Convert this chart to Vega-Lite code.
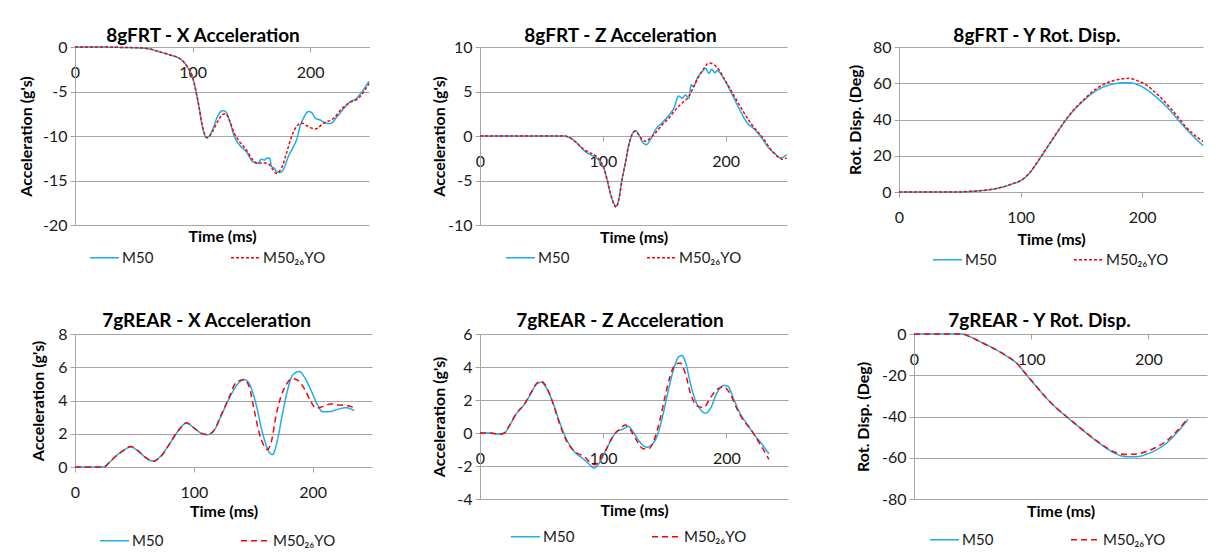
{
"$schema": "https://vega.github.io/schema/vega-lite/v6.json",
"autosize": {"type": "pad"},
"padding": {"left": 18, "top": 27, "right": 5, "bottom": 5},
"background": "white",
"datasets": {
"p1": [
{"t":0,"v":0,"s":"M50"},{"t":20,"v":0,"s":"M50"},{"t":40,"v":-0.05,"s":"M50"},{"t":50,"v":-0.08,"s":"M50"},{"t":60,"v":-0.15,"s":"M50"},{"t":71,"v":-0.5,"s":"M50"},{"t":80,"v":-0.86,"s":"M50"},{"t":85,"v":-1.05,"s":"M50"},{"t":91,"v":-1.5,"s":"M50"},{"t":95.4,"v":-2.2,"s":"M50"},{"t":99.7,"v":-3.3,"s":"M50"},{"t":102.6,"v":-4.8,"s":"M50"},{"t":105.4,"v":-6.7,"s":"M50"},{"t":108.3,"v":-8.9,"s":"M50"},{"t":111.7,"v":-10.2,"s":"M50"},{"t":114,"v":-10.05,"s":"M50"},{"t":116.9,"v":-9.3,"s":"M50"},{"t":121.2,"v":-7.8,"s":"M50"},{"t":125.5,"v":-7.15,"s":"M50"},{"t":128.4,"v":-7.3,"s":"M50"},{"t":131.2,"v":-8.2,"s":"M50"},{"t":135.5,"v":-10.05,"s":"M50"},{"t":139.8,"v":-11,"s":"M50"},{"t":145.6,"v":-11.75,"s":"M50"},{"t":151.3,"v":-12.9,"s":"M50"},{"t":155.6,"v":-13.05,"s":"M50"},{"t":158.5,"v":-12.6,"s":"M50"},{"t":161.3,"v":-12.7,"s":"M50"},{"t":162.8,"v":-12.5,"s":"M50"},{"t":165.6,"v":-12.5,"s":"M50"},{"t":167,"v":-13.4,"s":"M50"},{"t":170,"v":-13.7,"s":"M50"},{"t":171.3,"v":-14,"s":"M50"},{"t":174.2,"v":-14.1,"s":"M50"},{"t":177,"v":-13.8,"s":"M50"},{"t":181.4,"v":-12.3,"s":"M50"},{"t":185.7,"v":-11.2,"s":"M50"},{"t":188.5,"v":-10.4,"s":"M50"},{"t":191.4,"v":-8.9,"s":"M50"},{"t":194.3,"v":-8,"s":"M50"},{"t":198.6,"v":-7.25,"s":"M50"},{"t":201.4,"v":-7.4,"s":"M50"},{"t":204.3,"v":-8,"s":"M50"},{"t":208.6,"v":-8.2,"s":"M50"},{"t":212.9,"v":-8.55,"s":"M50"},{"t":217.2,"v":-8.6,"s":"M50"},{"t":223,"v":-7.8,"s":"M50"},{"t":228.7,"v":-6.9,"s":"M50"},{"t":234.4,"v":-6.1,"s":"M50"},{"t":238.7,"v":-5.85,"s":"M50"},{"t":243,"v":-5.2,"s":"M50"},{"t":247.3,"v":-4.4,"s":"M50"},{"t":250,"v":-3.85,"s":"M50"},
{"t":0,"v":0,"s":"M50_26YO"},{"t":20,"v":0,"s":"M50_26YO"},{"t":40,"v":-0.05,"s":"M50_26YO"},{"t":50,"v":-0.08,"s":"M50_26YO"},{"t":60,"v":-0.15,"s":"M50_26YO"},{"t":71,"v":-0.5,"s":"M50_26YO"},{"t":80,"v":-0.86,"s":"M50_26YO"},{"t":85,"v":-1.05,"s":"M50_26YO"},{"t":91,"v":-1.5,"s":"M50_26YO"},{"t":95.4,"v":-2.2,"s":"M50_26YO"},{"t":99.7,"v":-3.3,"s":"M50_26YO"},{"t":102.6,"v":-4.8,"s":"M50_26YO"},{"t":105.4,"v":-6.7,"s":"M50_26YO"},{"t":108.3,"v":-8.9,"s":"M50_26YO"},{"t":112.6,"v":-10.2,"s":"M50_26YO"},{"t":116.9,"v":-9.5,"s":"M50_26YO"},{"t":121.2,"v":-8.4,"s":"M50_26YO"},{"t":125.5,"v":-7.6,"s":"M50_26YO"},{"t":128.4,"v":-7.5,"s":"M50_26YO"},{"t":131.2,"v":-8.2,"s":"M50_26YO"},{"t":135.5,"v":-9.7,"s":"M50_26YO"},{"t":139.8,"v":-10.6,"s":"M50_26YO"},{"t":145.6,"v":-11.55,"s":"M50_26YO"},{"t":151.3,"v":-12.7,"s":"M50_26YO"},{"t":155.6,"v":-13.1,"s":"M50_26YO"},{"t":159.9,"v":-13,"s":"M50_26YO"},{"t":164.2,"v":-13.1,"s":"M50_26YO"},{"t":168.5,"v":-13.8,"s":"M50_26YO"},{"t":171.3,"v":-14.2,"s":"M50_26YO"},{"t":175.6,"v":-13.6,"s":"M50_26YO"},{"t":179.9,"v":-11.9,"s":"M50_26YO"},{"t":184.2,"v":-10.05,"s":"M50_26YO"},{"t":188.5,"v":-8.9,"s":"M50_26YO"},{"t":192.8,"v":-8.55,"s":"M50_26YO"},{"t":197.1,"v":-8.85,"s":"M50_26YO"},{"t":204.3,"v":-9.2,"s":"M50_26YO"},{"t":211.5,"v":-8.55,"s":"M50_26YO"},{"t":220,"v":-8,"s":"M50_26YO"},{"t":227.2,"v":-6.9,"s":"M50_26YO"},{"t":234.4,"v":-6.2,"s":"M50_26YO"},{"t":240.1,"v":-5.85,"s":"M50_26YO"},{"t":245.8,"v":-5,"s":"M50_26YO"},{"t":250,"v":-4.1,"s":"M50_26YO"}
],
"p2": [
{"t":0,"v":0,"s":"M50"},{"t":60,"v":0,"s":"M50"},{"t":68,"v":0,"s":"M50"},{"t":73.5,"v":-0.22,"s":"M50"},{"t":79,"v":-0.8,"s":"M50"},{"t":84.4,"v":-1.6,"s":"M50"},{"t":89.8,"v":-2.1,"s":"M50"},{"t":93.9,"v":-2.35,"s":"M50"},{"t":98,"v":-2.95,"s":"M50"},{"t":100.7,"v":-3.6,"s":"M50"},{"t":103.4,"v":-4.9,"s":"M50"},{"t":106,"v":-6.4,"s":"M50"},{"t":108.8,"v":-7.5,"s":"M50"},{"t":110.7,"v":-7.9,"s":"M50"},{"t":113,"v":-7.1,"s":"M50"},{"t":115.6,"v":-4.9,"s":"M50"},{"t":118.4,"v":-3,"s":"M50"},{"t":121,"v":-1.15,"s":"M50"},{"t":123.8,"v":0.15,"s":"M50"},{"t":126.5,"v":0.63,"s":"M50"},{"t":129.3,"v":0.15,"s":"M50"},{"t":132,"v":-0.6,"s":"M50"},{"t":135.2,"v":-0.97,"s":"M50"},{"t":138.8,"v":-0.4,"s":"M50"},{"t":142.9,"v":0.7,"s":"M50"},{"t":148.3,"v":1.5,"s":"M50"},{"t":153.7,"v":2.3,"s":"M50"},{"t":157.8,"v":3.1,"s":"M50"},{"t":161.9,"v":4.5,"s":"M50"},{"t":164.6,"v":4.25,"s":"M50"},{"t":167.3,"v":4.6,"s":"M50"},{"t":170,"v":4.25,"s":"M50"},{"t":172,"v":5.75,"s":"M50"},{"t":173.6,"v":5.55,"s":"M50"},{"t":176.9,"v":6.5,"s":"M50"},{"t":181,"v":7.25,"s":"M50"},{"t":183.7,"v":7.6,"s":"M50"},{"t":186.4,"v":7.05,"s":"M50"},{"t":188.6,"v":7.5,"s":"M50"},{"t":191.3,"v":7.1,"s":"M50"},{"t":193.2,"v":7.35,"s":"M50"},{"t":197.3,"v":6.7,"s":"M50"},{"t":201.4,"v":5.75,"s":"M50"},{"t":206.8,"v":4.25,"s":"M50"},{"t":212.2,"v":2.75,"s":"M50"},{"t":217.7,"v":1.45,"s":"M50"},{"t":223.1,"v":0.8,"s":"M50"},{"t":228.6,"v":-0.05,"s":"M50"},{"t":234,"v":-1.15,"s":"M50"},{"t":239.5,"v":-1.9,"s":"M50"},{"t":244.9,"v":-2.45,"s":"M50"},{"t":249.8,"v":-2.1,"s":"M50"},
{"t":0,"v":0,"s":"M50_26YO"},{"t":60,"v":0,"s":"M50_26YO"},{"t":68,"v":0,"s":"M50_26YO"},{"t":73.5,"v":-0.22,"s":"M50_26YO"},{"t":79,"v":-0.8,"s":"M50_26YO"},{"t":84.4,"v":-1.5,"s":"M50_26YO"},{"t":89.8,"v":-1.9,"s":"M50_26YO"},{"t":93.9,"v":-2.2,"s":"M50_26YO"},{"t":98,"v":-2.8,"s":"M50_26YO"},{"t":100.7,"v":-3.5,"s":"M50_26YO"},{"t":103.4,"v":-4.8,"s":"M50_26YO"},{"t":106,"v":-6.3,"s":"M50_26YO"},{"t":108.8,"v":-7.6,"s":"M50_26YO"},{"t":110.9,"v":-8,"s":"M50_26YO"},{"t":113,"v":-7.2,"s":"M50_26YO"},{"t":115.6,"v":-5,"s":"M50_26YO"},{"t":118.4,"v":-3,"s":"M50_26YO"},{"t":121.1,"v":-0.97,"s":"M50_26YO"},{"t":123.8,"v":0.15,"s":"M50_26YO"},{"t":126.5,"v":0.52,"s":"M50_26YO"},{"t":129.3,"v":0.15,"s":"M50_26YO"},{"t":132,"v":-0.4,"s":"M50_26YO"},{"t":135.2,"v":-0.6,"s":"M50_26YO"},{"t":138.8,"v":-0.2,"s":"M50_26YO"},{"t":142.9,"v":0.35,"s":"M50_26YO"},{"t":148.3,"v":1.25,"s":"M50_26YO"},{"t":153.7,"v":2,"s":"M50_26YO"},{"t":159.2,"v":2.95,"s":"M50_26YO"},{"t":164.6,"v":3.7,"s":"M50_26YO"},{"t":170.1,"v":4.45,"s":"M50_26YO"},{"t":174.1,"v":5.55,"s":"M50_26YO"},{"t":178.2,"v":6.7,"s":"M50_26YO"},{"t":182.3,"v":7.6,"s":"M50_26YO"},{"t":186.4,"v":8.2,"s":"M50_26YO"},{"t":190.5,"v":8,"s":"M50_26YO"},{"t":194.6,"v":7.45,"s":"M50_26YO"},{"t":198.6,"v":6.5,"s":"M50_26YO"},{"t":204.1,"v":5.2,"s":"M50_26YO"},{"t":209.5,"v":3.9,"s":"M50_26YO"},{"t":215,"v":2.6,"s":"M50_26YO"},{"t":220.4,"v":1.45,"s":"M50_26YO"},{"t":225.9,"v":0.52,"s":"M50_26YO"},{"t":231.3,"v":-0.4,"s":"M50_26YO"},{"t":236.7,"v":-1.5,"s":"M50_26YO"},{"t":242.2,"v":-2.3,"s":"M50_26YO"},{"t":246.3,"v":-2.6,"s":"M50_26YO"},{"t":249.8,"v":-2.45,"s":"M50_26YO"}
],
"p3": [
{"t":0,"v":0,"s":"M50"},{"t":47,"v":0,"s":"M50"},{"t":61,"v":0.4,"s":"M50"},{"t":74.6,"v":1.3,"s":"M50"},{"t":85.6,"v":2.8,"s":"M50"},{"t":93.8,"v":4.6,"s":"M50"},{"t":100.7,"v":6.4,"s":"M50"},{"t":107.5,"v":10.5,"s":"M50"},{"t":113,"v":15.6,"s":"M50"},{"t":118.5,"v":21.1,"s":"M50"},{"t":126.7,"v":29.4,"s":"M50"},{"t":135,"v":37.7,"s":"M50"},{"t":143.2,"v":44.7,"s":"M50"},{"t":151.4,"v":50.2,"s":"M50"},{"t":159.7,"v":54.8,"s":"M50"},{"t":167.9,"v":57.9,"s":"M50"},{"t":176.1,"v":59.6,"s":"M50"},{"t":184.4,"v":60.3,"s":"M50"},{"t":189.8,"v":60.3,"s":"M50"},{"t":198.1,"v":58.7,"s":"M50"},{"t":206.3,"v":55.2,"s":"M50"},{"t":214.5,"v":50.6,"s":"M50"},{"t":222.8,"v":45.1,"s":"M50"},{"t":231,"v":38.6,"s":"M50"},{"t":239.2,"v":32.6,"s":"M50"},{"t":250,"v":25.6,"s":"M50"},
{"t":0,"v":0,"s":"M50_26YO"},{"t":47,"v":0,"s":"M50_26YO"},{"t":61,"v":0.4,"s":"M50_26YO"},{"t":74.6,"v":1.3,"s":"M50_26YO"},{"t":85.6,"v":2.8,"s":"M50_26YO"},{"t":93.8,"v":4.7,"s":"M50_26YO"},{"t":100.7,"v":6.6,"s":"M50_26YO"},{"t":107.5,"v":10.7,"s":"M50_26YO"},{"t":113,"v":15.8,"s":"M50_26YO"},{"t":118.5,"v":21.3,"s":"M50_26YO"},{"t":126.7,"v":29.6,"s":"M50_26YO"},{"t":135,"v":37.9,"s":"M50_26YO"},{"t":143.2,"v":44.9,"s":"M50_26YO"},{"t":151.4,"v":50.6,"s":"M50_26YO"},{"t":159.7,"v":55.7,"s":"M50_26YO"},{"t":167.9,"v":59.2,"s":"M50_26YO"},{"t":176.1,"v":61.4,"s":"M50_26YO"},{"t":184.4,"v":62.5,"s":"M50_26YO"},{"t":188.5,"v":62.7,"s":"M50_26YO"},{"t":195.3,"v":61.6,"s":"M50_26YO"},{"t":203.6,"v":58.9,"s":"M50_26YO"},{"t":211.8,"v":54.3,"s":"M50_26YO"},{"t":220,"v":48.7,"s":"M50_26YO"},{"t":228.3,"v":42.3,"s":"M50_26YO"},{"t":236.5,"v":35.5,"s":"M50_26YO"},{"t":250,"v":27.8,"s":"M50_26YO"}
],
"p4": [
{"t":0,"v":0,"s":"M50"},{"t":24.4,"v":0,"s":"M50"},{"t":28.7,"v":0.26,"s":"M50"},{"t":34.3,"v":0.65,"s":"M50"},{"t":39.9,"v":0.95,"s":"M50"},{"t":46.9,"v":1.21,"s":"M50"},{"t":52.5,"v":0.99,"s":"M50"},{"t":59.6,"v":0.56,"s":"M50"},{"t":65.7,"v":0.36,"s":"M50"},{"t":72.2,"v":0.65,"s":"M50"},{"t":79.2,"v":1.35,"s":"M50"},{"t":87.6,"v":2.24,"s":"M50"},{"t":93.8,"v":2.64,"s":"M50"},{"t":100.3,"v":2.34,"s":"M50"},{"t":105.9,"v":2.04,"s":"M50"},{"t":111.5,"v":1.94,"s":"M50"},{"t":117.1,"v":2.2,"s":"M50"},{"t":122.8,"v":3.04,"s":"M50"},{"t":129.8,"v":4.13,"s":"M50"},{"t":136.8,"v":4.98,"s":"M50"},{"t":142.4,"v":5.26,"s":"M50"},{"t":146.6,"v":5.02,"s":"M50"},{"t":152.2,"v":3.83,"s":"M50"},{"t":157.9,"v":2.04,"s":"M50"},{"t":163.5,"v":0.89,"s":"M50"},{"t":166.3,"v":0.75,"s":"M50"},{"t":170.5,"v":1.65,"s":"M50"},{"t":174.7,"v":3.23,"s":"M50"},{"t":178.9,"v":4.62,"s":"M50"},{"t":183.1,"v":5.52,"s":"M50"},{"t":188.8,"v":5.75,"s":"M50"},{"t":193,"v":5.42,"s":"M50"},{"t":198.6,"v":4.62,"s":"M50"},{"t":204.2,"v":3.73,"s":"M50"},{"t":208.4,"v":3.33,"s":"M50"},{"t":214,"v":3.33,"s":"M50"},{"t":221.1,"v":3.47,"s":"M50"},{"t":228.1,"v":3.57,"s":"M50"},{"t":235.1,"v":3.39,"s":"M50"},
{"t":0,"v":0,"s":"M50_26YO"},{"t":24.4,"v":0,"s":"M50_26YO"},{"t":28.7,"v":0.26,"s":"M50_26YO"},{"t":34.3,"v":0.65,"s":"M50_26YO"},{"t":39.9,"v":0.95,"s":"M50_26YO"},{"t":46.9,"v":1.23,"s":"M50_26YO"},{"t":52.5,"v":1.01,"s":"M50_26YO"},{"t":59.6,"v":0.56,"s":"M50_26YO"},{"t":65.7,"v":0.34,"s":"M50_26YO"},{"t":72.2,"v":0.63,"s":"M50_26YO"},{"t":79.2,"v":1.35,"s":"M50_26YO"},{"t":87.6,"v":2.26,"s":"M50_26YO"},{"t":93.8,"v":2.66,"s":"M50_26YO"},{"t":100.3,"v":2.34,"s":"M50_26YO"},{"t":105.9,"v":2.04,"s":"M50_26YO"},{"t":111.5,"v":1.96,"s":"M50_26YO"},{"t":117.1,"v":2.22,"s":"M50_26YO"},{"t":122.8,"v":3.1,"s":"M50_26YO"},{"t":129.8,"v":4.2,"s":"M50_26YO"},{"t":135.4,"v":5.06,"s":"M50_26YO"},{"t":142.4,"v":5.26,"s":"M50_26YO"},{"t":146.6,"v":4.82,"s":"M50_26YO"},{"t":150.8,"v":3.43,"s":"M50_26YO"},{"t":155.1,"v":2.04,"s":"M50_26YO"},{"t":159.3,"v":1.25,"s":"M50_26YO"},{"t":162.1,"v":1.05,"s":"M50_26YO"},{"t":165.7,"v":1.65,"s":"M50_26YO"},{"t":169.1,"v":3.04,"s":"M50_26YO"},{"t":173.3,"v":4.23,"s":"M50_26YO"},{"t":177.5,"v":4.92,"s":"M50_26YO"},{"t":183.1,"v":5.32,"s":"M50_26YO"},{"t":187.4,"v":5.22,"s":"M50_26YO"},{"t":193,"v":4.72,"s":"M50_26YO"},{"t":198.6,"v":3.93,"s":"M50_26YO"},{"t":202.8,"v":3.53,"s":"M50_26YO"},{"t":208.4,"v":3.63,"s":"M50_26YO"},{"t":215.4,"v":3.79,"s":"M50_26YO"},{"t":222.5,"v":3.73,"s":"M50_26YO"},{"t":229.5,"v":3.69,"s":"M50_26YO"},{"t":235.1,"v":3.57,"s":"M50_26YO"}
],
"p5": [
{"t":0,"v":0,"s":"M50"},{"t":7.6,"v":0,"s":"M50"},{"t":15.8,"v":-0.08,"s":"M50"},{"t":19.8,"v":0,"s":"M50"},{"t":23.9,"v":0.44,"s":"M50"},{"t":29.3,"v":1.14,"s":"M50"},{"t":36.1,"v":1.74,"s":"M50"},{"t":41.6,"v":2.44,"s":"M50"},{"t":45.7,"v":2.94,"s":"M50"},{"t":49.7,"v":3.08,"s":"M50"},{"t":53.8,"v":2.74,"s":"M50"},{"t":59.2,"v":1.84,"s":"M50"},{"t":64.7,"v":0.64,"s":"M50"},{"t":70.1,"v":-0.36,"s":"M50"},{"t":76.9,"v":-1.16,"s":"M50"},{"t":83.7,"v":-1.56,"s":"M50"},{"t":89.1,"v":-1.92,"s":"M50"},{"t":92.4,"v":-2.12,"s":"M50"},{"t":95.9,"v":-1.92,"s":"M50"},{"t":100,"v":-1.36,"s":"M50"},{"t":105.4,"v":-0.56,"s":"M50"},{"t":110.9,"v":0.08,"s":"M50"},{"t":116.3,"v":0.24,"s":"M50"},{"t":120.4,"v":0.4,"s":"M50"},{"t":124.5,"v":0.04,"s":"M50"},{"t":129.9,"v":-0.56,"s":"M50"},{"t":135.3,"v":-0.86,"s":"M50"},{"t":140.8,"v":-0.6,"s":"M50"},{"t":144.8,"v":0.04,"s":"M50"},{"t":148.9,"v":1.24,"s":"M50"},{"t":153,"v":2.64,"s":"M50"},{"t":157.1,"v":3.84,"s":"M50"},{"t":161.1,"v":4.6,"s":"M50"},{"t":163.9,"v":4.7,"s":"M50"},{"t":166.6,"v":4.34,"s":"M50"},{"t":170.7,"v":3.04,"s":"M50"},{"t":174.7,"v":2,"s":"M50"},{"t":178.8,"v":1.44,"s":"M50"},{"t":182.9,"v":1.2,"s":"M50"},{"t":187,"v":1.48,"s":"M50"},{"t":192.4,"v":2.44,"s":"M50"},{"t":197.8,"v":2.88,"s":"M50"},{"t":201.1,"v":2.84,"s":"M50"},{"t":206,"v":2.04,"s":"M50"},{"t":211.4,"v":1.14,"s":"M50"},{"t":216.8,"v":0.54,"s":"M50"},{"t":222.3,"v":-0.06,"s":"M50"},{"t":227.7,"v":-0.56,"s":"M50"},{"t":234.5,"v":-1.26,"s":"M50"},
{"t":0,"v":0,"s":"M50_26YO"},{"t":7.6,"v":0,"s":"M50_26YO"},{"t":15.8,"v":-0.06,"s":"M50_26YO"},{"t":19.8,"v":0,"s":"M50_26YO"},{"t":23.9,"v":0.46,"s":"M50_26YO"},{"t":29.3,"v":1.16,"s":"M50_26YO"},{"t":36.1,"v":1.76,"s":"M50_26YO"},{"t":41.6,"v":2.46,"s":"M50_26YO"},{"t":45.7,"v":2.98,"s":"M50_26YO"},{"t":49.7,"v":3.14,"s":"M50_26YO"},{"t":53.8,"v":2.8,"s":"M50_26YO"},{"t":59.2,"v":1.8,"s":"M50_26YO"},{"t":64.7,"v":0.54,"s":"M50_26YO"},{"t":70.1,"v":-0.46,"s":"M50_26YO"},{"t":76.9,"v":-1.12,"s":"M50_26YO"},{"t":85.1,"v":-1.46,"s":"M50_26YO"},{"t":90.5,"v":-1.86,"s":"M50_26YO"},{"t":93.2,"v":-1.92,"s":"M50_26YO"},{"t":97.3,"v":-1.66,"s":"M50_26YO"},{"t":102.7,"v":-0.96,"s":"M50_26YO"},{"t":108.2,"v":-0.16,"s":"M50_26YO"},{"t":113.6,"v":0.24,"s":"M50_26YO"},{"t":117.7,"v":0.48,"s":"M50_26YO"},{"t":121.7,"v":0.24,"s":"M50_26YO"},{"t":127.2,"v":-0.46,"s":"M50_26YO"},{"t":132.6,"v":-0.96,"s":"M50_26YO"},{"t":136.7,"v":-0.96,"s":"M50_26YO"},{"t":142.1,"v":-0.26,"s":"M50_26YO"},{"t":146.2,"v":0.84,"s":"M50_26YO"},{"t":150.3,"v":2.24,"s":"M50_26YO"},{"t":154.3,"v":3.44,"s":"M50_26YO"},{"t":158.4,"v":4.14,"s":"M50_26YO"},{"t":162.5,"v":4.24,"s":"M50_26YO"},{"t":166.6,"v":3.64,"s":"M50_26YO"},{"t":170.7,"v":2.44,"s":"M50_26YO"},{"t":176.1,"v":1.64,"s":"M50_26YO"},{"t":181.5,"v":1.54,"s":"M50_26YO"},{"t":187,"v":2.14,"s":"M50_26YO"},{"t":192.4,"v":2.64,"s":"M50_26YO"},{"t":197.8,"v":2.8,"s":"M50_26YO"},{"t":203.3,"v":2.34,"s":"M50_26YO"},{"t":208.7,"v":1.44,"s":"M50_26YO"},{"t":214.1,"v":0.74,"s":"M50_26YO"},{"t":219.6,"v":0.24,"s":"M50_26YO"},{"t":226.4,"v":-0.56,"s":"M50_26YO"},{"t":230.4,"v":-1.06,"s":"M50_26YO"},{"t":234.5,"v":-1.6,"s":"M50_26YO"}
],
"p6": [
{"t":0,"v":0,"s":"M50"},{"t":40.6,"v":0,"s":"M50"},{"t":47.7,"v":-1.3,"s":"M50"},{"t":56.3,"v":-3.7,"s":"M50"},{"t":67.6,"v":-6.9,"s":"M50"},{"t":79,"v":-10.7,"s":"M50"},{"t":87.5,"v":-14.2,"s":"M50"},{"t":96,"v":-19.9,"s":"M50"},{"t":104.5,"v":-25.5,"s":"M50"},{"t":113.1,"v":-31.2,"s":"M50"},{"t":121.6,"v":-36,"s":"M50"},{"t":130.1,"v":-40.1,"s":"M50"},{"t":138.6,"v":-44.1,"s":"M50"},{"t":147.2,"v":-48.1,"s":"M50"},{"t":155.7,"v":-51.9,"s":"M50"},{"t":164.2,"v":-55.4,"s":"M50"},{"t":172.7,"v":-58.2,"s":"M50"},{"t":181.3,"v":-59.5,"s":"M50"},{"t":189.8,"v":-59.5,"s":"M50"},{"t":198.3,"v":-58.3,"s":"M50"},{"t":206.8,"v":-56.2,"s":"M50"},{"t":215.3,"v":-53,"s":"M50"},{"t":223.9,"v":-48.1,"s":"M50"},{"t":233.8,"v":-41.4,"s":"M50"},
{"t":0,"v":0,"s":"M50_26YO"},{"t":40.6,"v":0,"s":"M50_26YO"},{"t":47.7,"v":-1.3,"s":"M50_26YO"},{"t":56.3,"v":-3.7,"s":"M50_26YO"},{"t":67.6,"v":-6.9,"s":"M50_26YO"},{"t":79,"v":-10.6,"s":"M50_26YO"},{"t":87.5,"v":-14.1,"s":"M50_26YO"},{"t":96,"v":-19.8,"s":"M50_26YO"},{"t":104.5,"v":-25.4,"s":"M50_26YO"},{"t":113.1,"v":-31.1,"s":"M50_26YO"},{"t":121.6,"v":-35.9,"s":"M50_26YO"},{"t":130.1,"v":-40,"s":"M50_26YO"},{"t":138.6,"v":-44,"s":"M50_26YO"},{"t":147.2,"v":-48,"s":"M50_26YO"},{"t":155.7,"v":-51.7,"s":"M50_26YO"},{"t":164.2,"v":-55.1,"s":"M50_26YO"},{"t":172.7,"v":-57.6,"s":"M50_26YO"},{"t":181.3,"v":-58.4,"s":"M50_26YO"},{"t":189.8,"v":-58.2,"s":"M50_26YO"},{"t":198.3,"v":-57,"s":"M50_26YO"},{"t":206.8,"v":-54.9,"s":"M50_26YO"},{"t":215.3,"v":-51.9,"s":"M50_26YO"},{"t":223.9,"v":-47.3,"s":"M50_26YO"},{"t":233.8,"v":-40.9,"s":"M50_26YO"}
]
},
"config": {
"font": "Lato",
"view": {"stroke": null},
"axis": {"labelFont": "Lato", "labelFontSize": 16, "labelColor": "#1a1a1a", "titleFont": "Lato", "titleFontSize": 16, "titleFontWeight": "bold", "titleColor": "#000000", "domainColor": "#a6a6a6", "tickColor": "#a6a6a6", "gridColor": "#a6a6a6", "gridWidth": 1, "domainWidth": 1, "tickSize": 5, "tickWidth": 1},
"axisX": {"grid": false, "labelFlush": false, "labelPadding": 12, "titleBaseline": "middle"},
"axisY": {"grid": true, "labelPadding": 3, "titleBaseline": "middle"},
"title": {"font": "Lato", "fontSize": 19, "fontWeight": "bold", "color": "#000000", "anchor": "middle", "frame": "group"},
"legend": {"orient": "none", "direction": "horizontal", "title": null, "symbolType": "stroke", "symbolSize": 841, "symbolStrokeWidth": 1.6, "labelFont": "Lato", "labelFontSize": 15, "labelColor": "#1a1a1a", "columnPadding": 73, "labelOffset": 2, "padding": 0}
},
"spacing": 44,
"resolve": {"scale": {"color": "independent", "strokeDash": "independent"}},
"vconcat": [
{
"spacing": 57,
"resolve": {"scale": {"color": "independent", "strokeDash": "independent"}},
"hconcat": [
{
"spacing": 59,
"resolve": {"scale": {"color": "independent", "strokeDash": "independent"}},
"hconcat": [
{
"width": 294, "height": 178,
"title": {"text": "8gFRT - X Acceleration", "dx": -19, "offset": -7},
"data": {"name": "p1"},
"mark": {"type": "line", "strokeWidth": 1.5, "interpolate": "monotone"},
"encoding": {
"x": {"field": "t", "type": "quantitative", "scale": {"domain": [0, 250], "nice": false, "zero": false}, "axis": {"title": "Time (ms)", "values": [0, 100, 200], "offset": -178, "titleY": 189}},
"y": {"field": "v", "type": "quantitative", "scale": {"domain": [-20, 0], "nice": false}, "axis": {"title": "Acceleration (g's)", "values": [-20, -15, -10, -5, 0], "titleX": -49, "labelExpr": "datum.value < 0 ? '-' + abs(datum.value) : datum.label"}},
"color": {"field": "s", "type": "nominal", "scale": {"domain": ["M50", "M50_26YO"], "range": ["#1daee9", "#ff0000"]}, "legend": {"legendX": 14, "legendY": 195, "labelExpr": "datum.value == 'M50_26YO' ? 'M50₂₆YO' : datum.label"}},
"strokeDash": {"field": "s", "type": "nominal", "scale": {"domain": ["M50", "M50_26YO"], "range": [[1, 0], [3, 2]]}, "legend": {"legendX": 14, "legendY": 195, "labelExpr": "datum.value == 'M50_26YO' ? 'M50₂₆YO' : datum.label"}}
}
},
{
"width": 307, "height": 178,
"title": {"text": "8gFRT - Z Acceleration", "dx": -13, "offset": -7},
"data": {"name": "p2"},
"mark": {"type": "line", "strokeWidth": 1.5, "interpolate": "monotone"},
"encoding": {
"x": {"field": "t", "type": "quantitative", "scale": {"domain": [0, 250], "nice": false, "zero": false}, "axis": {"title": "Time (ms)", "values": [0, 100, 200], "offset": -89, "titleY": 101}},
"y": {"field": "v", "type": "quantitative", "scale": {"domain": [-10, 10], "nice": false}, "axis": {"title": "Acceleration (g's)", "values": [-10, -5, 0, 5, 10], "titleX": -41, "labelExpr": "datum.value < 0 ? '-' + abs(datum.value) : datum.label"}},
"color": {"field": "s", "type": "nominal", "scale": {"domain": ["M50", "M50_26YO"], "range": ["#1daee9", "#ff0000"]}, "legend": {"legendX": 25, "legendY": 195, "labelExpr": "datum.value == 'M50_26YO' ? 'M50₂₆YO' : datum.label"}},
"strokeDash": {"field": "s", "type": "nominal", "scale": {"domain": ["M50", "M50_26YO"], "range": [[1, 0], [3, 2]]}, "legend": {"legendX": 25, "legendY": 195, "labelExpr": "datum.value == 'M50_26YO' ? 'M50₂₆YO' : datum.label"}}
}
}
]
},
{
"width": 304, "height": 145,
"title": {"text": "8gFRT - Y Rot. Disp.", "dx": -14, "offset": -7},
"data": {"name": "p3"},
"mark": {"type": "line", "strokeWidth": 1.5, "interpolate": "monotone"},
"encoding": {
"x": {"field": "t", "type": "quantitative", "scale": {"domain": [0, 250], "nice": false, "zero": false}, "axis": {"title": "Time (ms)", "values": [0, 100, 200], "titleY": 47}},
"y": {"field": "v", "type": "quantitative", "scale": {"domain": [0, 80], "nice": false}, "axis": {"title": "Rot. Disp. (Deg)", "values": [0, 20, 40, 60, 80], "titleX": -44}},
"color": {"field": "s", "type": "nominal", "scale": {"domain": ["M50", "M50_26YO"], "range": ["#1daee9", "#ff0000"]}, "legend": {"legendX": 33, "legendY": 197, "labelExpr": "datum.value == 'M50_26YO' ? 'M50₂₆YO' : datum.label"}},
"strokeDash": {"field": "s", "type": "nominal", "scale": {"domain": ["M50", "M50_26YO"], "range": [[1, 0], [3, 2]]}, "legend": {"legendX": 33, "legendY": 197, "labelExpr": "datum.value == 'M50_26YO' ? 'M50₂₆YO' : datum.label"}}
}
}
]
},
{
"spacing": 67,
"resolve": {"scale": {"color": "independent", "strokeDash": "independent"}},
"hconcat": [
{
"spacing": 59,
"resolve": {"scale": {"color": "independent", "strokeDash": "independent"}},
"hconcat": [
{
"width": 297, "height": 133,
"title": {"text": "7gREAR - X Acceleration", "dx": -17, "offset": -5},
"data": {"name": "p4"},
"mark": {"type": "line", "strokeWidth": 1.5, "interpolate": "monotone"},
"encoding": {
"x": {"field": "t", "type": "quantitative", "scale": {"domain": [0, 250], "nice": false, "zero": false}, "axis": {"title": "Time (ms)", "values": [0, 100, 200], "titleY": 44}},
"y": {"field": "v", "type": "quantitative", "scale": {"domain": [0, 8], "nice": false}, "axis": {"title": "Acceleration (g's)", "values": [0, 2, 4, 6, 8], "titleX": -37}},
"color": {"field": "s", "type": "nominal", "scale": {"domain": ["M50", "M50_26YO"], "range": ["#1daee9", "#ff0000"]}, "legend": {"legendX": 24, "legendY": 191, "labelExpr": "datum.value == 'M50_26YO' ? 'M50₂₆YO' : datum.label"}},
"strokeDash": {"field": "s", "type": "nominal", "scale": {"domain": ["M50", "M50_26YO"], "range": [[1, 0], [6, 4]]}, "legend": {"legendX": 24, "legendY": 191, "labelExpr": "datum.value == 'M50_26YO' ? 'M50₂₆YO' : datum.label"}}
}
},
{
"width": 308, "height": 165,
"title": {"text": "7gREAR - Z Acceleration", "dx": -14, "offset": -5},
"data": {"name": "p5"},
"mark": {"type": "line", "strokeWidth": 1.5, "interpolate": "monotone"},
"encoding": {
"x": {"field": "t", "type": "quantitative", "scale": {"domain": [0, 250], "nice": false, "zero": false}, "axis": {"title": "Time (ms)", "values": [0, 100, 200], "offset": -66, "titleY": 77}},
"y": {"field": "v", "type": "quantitative", "scale": {"domain": [-4, 6], "nice": false}, "axis": {"title": "Acceleration (g's)", "values": [-4, -2, 0, 2, 4, 6], "titleX": -41, "labelExpr": "datum.value < 0 ? '-' + abs(datum.value) : datum.label"}},
"color": {"field": "s", "type": "nominal", "scale": {"domain": ["M50", "M50_26YO"], "range": ["#1daee9", "#ff0000"]}, "legend": {"legendX": 30, "legendY": 187, "labelExpr": "datum.value == 'M50_26YO' ? 'M50₂₆YO' : datum.label"}},
"strokeDash": {"field": "s", "type": "nominal", "scale": {"domain": ["M50", "M50_26YO"], "range": [[1, 0], [6, 4]]}, "legend": {"legendX": 30, "legendY": 187, "labelExpr": "datum.value == 'M50_26YO' ? 'M50₂₆YO' : datum.label"}}
}
}
]
},
{
"width": 293, "height": 165,
"title": {"text": "7gREAR - Y Rot. Disp.", "dx": -21, "offset": -5},
"data": {"name": "p6"},
"mark": {"type": "line", "strokeWidth": 1.5, "interpolate": "monotone"},
"encoding": {
"x": {"field": "t", "type": "quantitative", "scale": {"domain": [0, 250], "nice": false, "zero": false}, "axis": {"title": "Time (ms)", "values": [0, 100, 200], "offset": -165, "titleY": 177}},
"y": {"field": "v", "type": "quantitative", "scale": {"domain": [-80, 0], "nice": false}, "axis": {"title": "Rot. Disp. (Deg)", "values": [-80, -60, -40, -20, 0], "titleX": -51, "labelExpr": "datum.value < 0 ? '-' + abs(datum.value) : datum.label"}},
"color": {"field": "s", "type": "nominal", "scale": {"domain": ["M50", "M50_26YO"], "range": ["#1daee9", "#ff0000"]}, "legend": {"legendX": 15, "legendY": 190, "labelExpr": "datum.value == 'M50_26YO' ? 'M50₂₆YO' : datum.label"}},
"strokeDash": {"field": "s", "type": "nominal", "scale": {"domain": ["M50", "M50_26YO"], "range": [[1, 0], [6, 4]]}, "legend": {"legendX": 15, "legendY": 190, "labelExpr": "datum.value == 'M50_26YO' ? 'M50₂₆YO' : datum.label"}}
}
}
]
}
]
}
